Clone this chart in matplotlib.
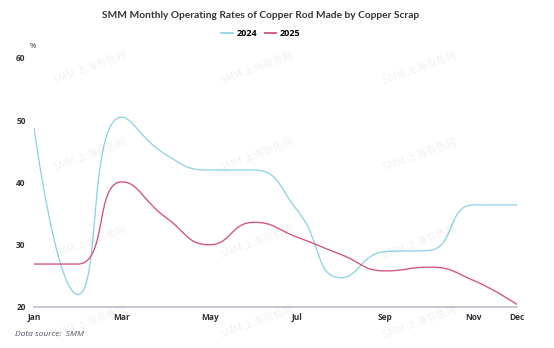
import matplotlib.pyplot as plt
import numpy as np
from matplotlib.path import Path
from matplotlib.patches import PathPatch
from matplotlib.lines import Line2D

plt.rcParams['font.family'] = ['Open Sans', 'Noto Sans CJK SC', 'DejaVu Sans']

months = ['Jan', 'Feb', 'Mar', 'Apr', 'May', 'Jun', 'Jul', 'Aug', 'Sep', 'Oct', 'Nov', 'Dec']
tick_months = ['Jan', 'Mar', 'May', 'Jul', 'Sep', 'Nov', 'Dec']
rate_2024 = [48.8, 22.0, 50.5, 44.5, 42.0, 42.0, 35.5, 24.7, 28.9, 29.1, 36.4, 36.4]
rate_2025 = [26.9, 26.9, 40.1, 34.4, 30.0, 33.6, 31.2, 28.4, 25.8, 26.4, 24.3, 20.4]

c2024 = '#8fd3e2'
c2025 = '#d4517c'


def smooth_path(xs, ys, sx, sy, smooth=0.5):
    # bezier smoothing in the style of echarts (smooth: true), lengths in pixel space
    px = np.asarray(xs, float) * sx
    py = np.asarray(ys, float) * sy
    n = len(px)
    verts = [(px[0], py[0])]
    codes = [Path.MOVETO]
    cp0 = (px[0], py[0])
    for i in range(1, n):
        x, y = px[i], py[i]
        prx, pry = px[i - 1], py[i - 1]
        if i == n - 1:
            cp1 = (x, y)
            ncp = (x, y)
        else:
            nx, ny = px[i + 1], py[i + 1]
            vx, vy = nx - prx, ny - pry
            lp = np.hypot(x - prx, y - pry)
            ln = np.hypot(nx - x, ny - y)
            r = ln / (ln + lp)
            ncx = x + vx * smooth * r
            ncy = y + vy * smooth * r
            ncx = min(max(ncx, min(nx, x)), max(nx, x))
            ncy = min(max(ncy, min(ny, y)), max(ny, y))
            vx, vy = ncx - x, ncy - y
            c1x = x - vx * lp / ln
            c1y = y - vy * lp / ln
            c1x = min(max(c1x, min(prx, x)), max(prx, x))
            c1y = min(max(c1y, min(pry, y)), max(pry, y))
            vx, vy = x - c1x, y - c1y
            ncp = (x + vx * ln / lp, y + vy * ln / lp)
            cp1 = (c1x, c1y)
        verts += [cp0, cp1, (x, y)]
        codes += [Path.CURVE4] * 3
        cp0 = ncp
    verts = [(vx_ / sx, vy_ / sy) for vx_, vy_ in verts]
    return Path(verts, codes)


fig = plt.figure(figsize=(5.54, 3.48), dpi=100)
ax = fig.add_axes([34 / 554, 1 - 307 / 348, (517 - 34) / 554, (307 - 58) / 348])

x = np.arange(len(months))
sx, sy = 483 / 11, 249 / 40
for vals, col in [(rate_2024, c2024), (rate_2025, c2025)]:
    ax.add_patch(PathPatch(smooth_path(x, vals, sx, sy), facecolor='none',
                           edgecolor=col, lw=0.95, zorder=3))

ax.set_xlim(0, 11)
ax.set_ylim(20, 60)
ax.set_xticks([months.index(m) for m in tick_months])
ax.set_xticklabels(tick_months)
ax.set_yticks([20, 30, 40, 50, 60])
ax.tick_params(axis='both', length=0, labelsize=6, labelcolor='#333333')
ax.tick_params(axis='x', pad=4)
ax.tick_params(axis='y', pad=6)
for lab in ax.get_xticklabels() + ax.get_yticklabels():
    lab.set_fontweight('bold')
for s in ['top', 'right', 'left']:
    ax.spines[s].set_visible(False)
ax.spines['bottom'].set_color('#c2c2d2')
ax.spines['bottom'].set_linewidth(1.3)
ax.spines['bottom'].set_zorder(2)

fig.text(33 / 554, 1 - 46 / 348, '%', fontsize=5.5, color='#333333', ha='center', va='center')

fig.text(261 / 554, 1 - 16 / 348, 'SMM Monthly Operating Rates of Copper Rod Made by Copper Scrap',
         fontsize=7.3, fontweight='bold', color='#333333', ha='center', va='center',
         family=['Lato', 'DejaVu Sans'])

handles = [Line2D([], [], color=c2024, lw=1.3), Line2D([], [], color=c2025, lw=1.3)]
fig.legend(handles, ['2024', '2025'], loc='center', bbox_to_anchor=(261 / 554, 1 - 34 / 348),
           ncol=2, frameon=False, handlelength=1.3, handletextpad=0.4,
           columnspacing=0.8, prop={'weight': 'bold', 'size': 6.5})

fig.text(15 / 554, 1 - 334 / 348, 'Data source:  SMM', fontsize=6, style='italic',
         color='#555566', ha='left', va='center')

# watermark
for wy in [68, 155, 242, 322]:
    for wx in [90, 257, 420]:
        fig.text(wx / 554, 1 - wy / 348, 'SMM 上海有色网', fontsize=7.5, rotation=20,
                 color='#000000', alpha=0.06, ha='center', va='center',
                 family=['Noto Sans CJK SC', 'DejaVu Sans'])

fig.savefig('out.png', dpi=100)
